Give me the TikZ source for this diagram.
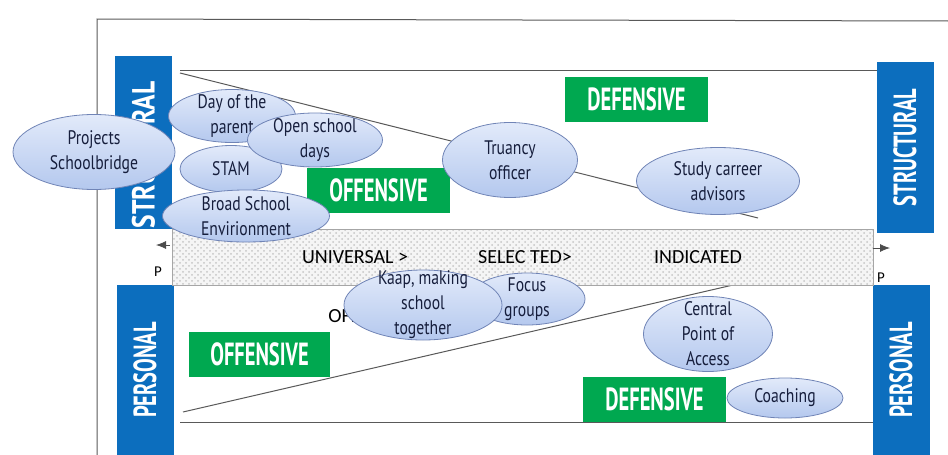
\documentclass[tikz,border=0pt]{standalone}
\usepackage{fontspec}
\setmainfont{PT Sans}
\newfontfamily\bubblefont[FakeStretch=0.8]{PT Sans}
\newfontfamily\tagfont[FakeStretch=0.64]{PT Sans}
\newfontfamily\bandfont{Carlito}
\usepackage{tikz}
\usetikzlibrary{shapes.geometric,patterns,arrows.meta}
\definecolor{sideblue}{RGB}{12,110,190}
\definecolor{taggreen}{RGB}{0,168,80}
\definecolor{bubtop}{RGB}{226,234,250}
\definecolor{bubbot}{RGB}{180,200,238}
\definecolor{bubline}{RGB}{112,132,182}
\definecolor{bubtext}{RGB}{22,30,60}

\begin{document}
\begin{tikzpicture}[x=0.5pt,y=-0.5pt,
  sidebox/.style={fill=sideblue, text=white, rotate=90, minimum height=28.5pt,
    inner sep=0pt, font=\tagfont\bfseries\fontsize{16}{16}\selectfont},
  tagbox/.style={fill=taggreen, text=white, minimum width=71.5pt, minimum height=22.5pt,
    inner sep=0pt, font=\tagfont\bfseries\fontsize{16}{16}\selectfont},
  bubble/.style={ellipse, draw=bubline, top color=bubtop, bottom color=bubbot, inner sep=0pt},
  bubtxt/.style={align=center, inner sep=0pt, text=bubtext,
    font=\bubblefont\fontsize{9.8}{12.5}\selectfont},
  bandtxt/.style={inner sep=0pt, font=\bandfont\fontsize{10}{10}\selectfont},
  guide/.style={draw=black!65, line width=0.5pt}]
  \useasboundingbox (0,0) rectangle (948,455);

  % outer frame
  \draw[guide] (97,455) -- (97,19) -- (948,21);

  % upper region: structural
  \draw[guide] (180,70) -- (877,70);
  \draw[guide] (180,73) -- (758,218);
  \node[sidebox, minimum width=86.5pt] (strucL) at (143.5,142.5) {};
  \node[sidebox, fill=none, font=\bubblefont\bfseries\fontsize{16}{16}\selectfont]
    (strucLt) at (143.5,155) {STRUCTURAL};
  \node[sidebox, minimum width=85.5pt] (strucR) at (905,147.5) {STRUCTURAL};
  \node[tagbox] (defU) at (636.5,99) {DEFENSIVE};
  \node[tagbox] (offU) at (378.5,190) {OFFENSIVE};

  % lower region: personal
  \draw[guide] (180,422) -- (873,422);
  \draw[guide] (183,412) -- (733,285);
  \node[sidebox, minimum width=85pt] (persL) at (145,370) {PERSONAL};
  \node[sidebox, minimum width=85pt] (persR) at (901,370) {PERSONAL};
  \node[tagbox, minimum width=70.5pt] (offL) at (259.5,354) {OFFENSIVE};
  \node[tagbox] (defL) at (654.5,399) {DEFENSIVE};
  \node[bandtxt, anchor=west] (offhid) at (328,316) {OFFENSIVE};

  % middle band
  \node[draw=gray!70, preaction={fill=gray!8}, pattern=crosshatch dots, pattern color=gray!45,
    minimum width=350.5pt, minimum height=28pt, inner sep=0pt] (band) at (522.5,257) {};
  \node[bandtxt] (univ) at (355,257) {UNIVERSAL >};
  \node[bandtxt] (sel) at (525,257) {SELEC TED>};
  \node[bandtxt] (ind) at (698,257) {INDICATED};
  \coordinate (lbase) at (170,245);
  \coordinate (ltip) at (156,245);
  \coordinate (rbase) at (873,248);
  \coordinate (rtip) at (890,248);
  \draw[black!70, -{Latex[length=5pt,width=4pt]}] (lbase) -- (ltip);
  \draw[black!70, -{Latex[length=5pt,width=4pt]}] (rbase) -- (rtip);
  \node[bandtxt, font=\bandfont\fontsize{7.5}{7.5}\selectfont] (pL) at (158,272) {P};
  \node[bandtxt, font=\bandfont\fontsize{7.5}{7.5}\selectfont] (pR) at (881,278) {P};

  % bubbles
  \node[bubble, minimum width=63.5pt, minimum height=26.5pt] (parent) at (232,116) {};
  \node[bubtxt] (parentt) at (parent) {Day of the\\parent};
  \node[bubble, minimum width=51pt, minimum height=23.5pt] (stam) at (231,169) {};
  \node[bubtxt] (stamt) at (stam) {STAM};
  \node[bubble, minimum width=67.5pt, minimum height=27pt] (open) at (315,140) {};
  \node[bubtxt] (opent) at (open) {Open school\\days};
  \node[bubble, minimum width=83.5pt, minimum height=26pt] (broad) at (246,216) {};
  \node[bubtxt] (broadt) at (broad) {Broad School\\Envirionment};
  \node[bubble, minimum width=81pt, minimum height=37.5pt] (proj) at (94,152) {};
  \node[bubtxt] (projt) at (proj) {Projects\\Schoolbridge};
  \node[bubble, minimum width=67.5pt, minimum height=37.5pt] (truancy) at (510,160) {};
  \node[bubtxt] (truancyt) at (truancy) {Truancy\\officer};
  \node[bubble, minimum width=81.5pt, minimum height=33.5pt] (study) at (718,181) {};
  \node[bubtxt] (studyt) at (study) {Study carreer\\advisors};
  \node[bubble, minimum width=58pt, minimum height=26pt] (focus) at (527,299) {};
  \node[bubtxt] (focust) at (focus) {Focus\\groups};
  \node[bubble, minimum width=79pt, minimum height=35pt] (kaap) at (423,305) {};
  \node[bubtxt] (kaapt) at (kaap) {Kaap, making\\school\\together};
  \node[bubble, minimum width=64.5pt, minimum height=37.5pt] (cpa) at (708,334) {};
  \node[bubtxt] (cpat) at (cpa) {Central\\Point of\\Access};
  \node[bubble, minimum width=58pt, minimum height=20pt] (coach) at (785,398) {};
  \node[bubtxt] (coacht) at (coach) {Coaching};
\end{tikzpicture}
\end{document}
